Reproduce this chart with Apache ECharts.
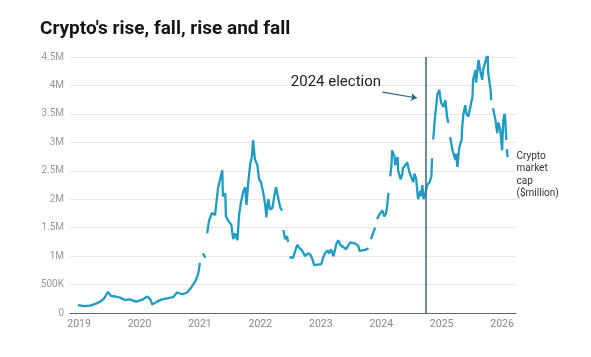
<!DOCTYPE html>
<html>
<head>
<meta charset="utf-8">
<script src="https://cdn.jsdelivr.net/npm/echarts@6/dist/echarts.min.js"></script>
<style>
html,body{margin:0;padding:0;background:#fff;}
#c{width:591px;height:357px;}
</style>
</head>
<body>
<div id="c"></div>
<script>
// Decimal years (time) and crypto market cap in $ million (null = gap in the source data)
const years = [
2018.98,2019.08,2019.18,2019.27,2019.35,2019.41,2019.48,2019.53,2019.60,2019.68,2019.76,2019.84,2019.94,
2020.04,2020.13,2020.18,2020.21,2020.29,2020.37,2020.47,2020.56,2020.62,2020.71,2020.79,2020.85,2020.92,2020.97,
2021.00,2021.02,2021.05,2021.09,2021.10,2021.12,2021.15,2021.20,2021.25,2021.30,2021.37,2021.38,2021.42,2021.43,
2021.47,2021.52,2021.55,2021.58,2021.62,2021.65,2021.68,2021.72,2021.75,2021.77,2021.80,2021.83,2021.86,2021.88,
2021.91,2021.95,2021.98,2022.01,2022.05,2022.08,2022.10,2022.13,2022.16,2022.20,2022.23,2022.26,2022.30,2022.33,
2022.36,2022.37,2022.38,2022.41,2022.44,2022.46,2022.47,2022.48,2022.51,2022.54,2022.58,2022.61,2022.64,2022.69,
2022.74,2022.79,2022.83,2022.86,2022.89,2022.94,2022.97,2023.01,2023.04,2023.07,2023.11,2023.14,2023.17,2023.21,
2023.26,2023.29,2023.32,2023.37,2023.42,2023.45,2023.49,2023.52,2023.57,2023.62,2023.64,2023.69,2023.74,2023.79,
2023.81,2023.83,2023.88,2023.90,2023.92,2023.93,2023.98,2024.02,2024.05,2024.08,2024.10,2024.12,2024.13,2024.15,
2024.17,2024.18,2024.22,2024.23,2024.27,2024.28,2024.32,2024.35,2024.36,2024.40,2024.43,2024.46,2024.50,2024.53,
2024.55,2024.58,2024.60,2024.61,2024.65,2024.66,2024.68,2024.70,2024.73,2024.76,2024.80,2024.83,2024.84,2024.85,
2024.86,2024.89,2024.93,2024.96,2024.99,2025.03,2025.06,2025.08,2025.09,2025.11,2025.12,2025.14,2025.18,2025.21,
2025.23,2025.24,2025.26,2025.29,2025.33,2025.34,2025.36,2025.39,2025.41,2025.44,2025.47,2025.51,2025.52,2025.56,
2025.57,2025.61,2025.64,2025.67,2025.69,2025.72,2025.76,2025.77,2025.81,2025.82,2025.83,2025.85,2025.89,2025.92,
2025.94,2025.97,2026.00,2026.02,2026.04,2026.05,2026.07,2026.075,2026.08,2026.09
];
const capMillions = [
140000,120000,130000,160000,200000,250000,370000,300000,290000,270000,230000,240000,200000,
230000,290000,240000,150000,200000,240000,260000,280000,360000,330000,360000,440000,550000,680000,
880000,null,1050000,970000,null,1400000,1620000,1760000,1720000,2200000,2510000,2050000,2100000,1700000,
1620000,1550000,1300000,1400000,1280000,1750000,1950000,2150000,2210000,1900000,2300000,2600000,2750000,3040000,
2700000,2600000,2350000,2300000,2100000,1900000,1680000,2000000,1820000,1850000,2050000,2210000,2000000,1850000,
1800000,null,1460000,1300000,1350000,1250000,null,980000,950000,970000,1100000,1200000,1150000,1100000,
1000000,1050000,1020000,950000,840000,850000,880000,860000,980000,1050000,1100000,1050000,1120000,1000000,
1220000,1280000,1200000,1160000,1120000,1180000,1240000,1260000,1220000,1180000,1090000,1100000,1110000,1140000,
null,1300000,1450000,1500000,null,1650000,1750000,1800000,1700000,1750000,1900000,2110000,null,2400000,
2600000,2860000,2750000,2600000,2740000,2500000,2350000,2450000,2550000,2600000,2650000,2500000,2380000,2300000,
2450000,2350000,2100000,2000000,2150000,2050000,2250000,2000000,2100000,2250000,2300000,2400000,2720000,null,
3050000,3440000,3850000,3920000,3700000,3620000,3740000,3550000,3440000,3340000,null,3090000,2860000,2750000,
2690000,2800000,2570000,2900000,3050000,3270000,3500000,3650000,3500000,3450000,3600000,3800000,4100000,4270000,
4050000,4450000,4250000,4100000,4300000,4400000,4570000,4220000,3920000,3740000,null,3600000,3390000,3160000,
3350000,3220000,2860000,3390000,3500000,3440000,3040000,null,2880000,2740000
];
const yearTicks = [2019,2020,2021,2022,2023,2024,2025,2026];
const electionYear = 2024.73;
const annotationText = '2024 election';
const annotationAt = [2023.25, 4060000];
const arrowFrom = [2024.02, 3884000];
const arrowTo = [2024.59, 3779000];

const seriesData = years.map((y, i) => [y, capMillions[i] === null ? '-' : capMillions[i]]);

function fmtY(v){
  if (v === 0) return '0';
  if (v >= 1000000) return (v/1000000) + 'M';
  return (v/1000) + 'K';
}

const chart = echarts.init(document.getElementById('c'), null, {renderer:'canvas'});
chart.setOption({
  animation:false,
  backgroundColor:'#ffffff',
  textStyle:{fontFamily:'Roboto'},
  title:{
    text:"Crypto's rise, fall, rise and fall",
    left:35, top:15,
    textStyle:{fontFamily:'Roboto', fontWeight:'bold', fontSize:19, color:'#151515'}
  },
  grid:{left:70, right:75, top:57, bottom:44, containLabel:false},
  xAxis:{
    type:'value', min:2018.85, max:2026.23,
    axisLine:{show:true, lineStyle:{color:'#666', width:1}},
    axisTick:{show:false},
    splitLine:{show:false},
    axisLabel:{customValues:yearTicks, formatter:v=>String(Math.round(v)), color:'#888', fontSize:10.5, margin:6}
  },
  yAxis:{
    type:'value', min:0, max:4500000, interval:500000,
    axisLine:{show:false}, axisTick:{show:false},
    splitLine:{lineStyle:{color:'#e8e8e8', width:1}},
    axisLabel:{formatter:fmtY, color:'#999', fontSize:10, margin:6}
  },
  series:[{
    type:'line',
    data:seriesData,
    showSymbol:false,
    connectNulls:false,
    lineStyle:{color:'#1f9bc4', width:2.3},
    itemStyle:{color:'#1f9bc4'},
    endLabel:{
      show:true,
      formatter:'Crypto\nmarket\ncap\n($million)',
      fontFamily:'Roboto', fontSize:10, lineHeight:12.3, color:'#333',
      distance:9, offset:[0,18]
    },
    markLine:{
      silent:true,
      animation:false,
      symbol:['none','none'],
      label:{show:false},
      data:[
        {xAxis:electionYear, lineStyle:{color:'#3b6788', width:1.5, type:'solid'}},
        [
          {coord:arrowFrom, symbol:'none', lineStyle:{color:'#2f5f80', width:1.2, type:'solid'}},
          {coord:arrowTo, symbol:'arrow', symbolSize:6}
        ]
      ]
    },
    markPoint:{
      silent:true,
      symbol:'circle', symbolSize:0,
      label:{show:true, position:'inside', formatter:annotationText, fontFamily:'Roboto', fontSize:15, color:'#222'},
      data:[{coord:annotationAt}]
    }
  }]
});
</script>
</body>
</html>
